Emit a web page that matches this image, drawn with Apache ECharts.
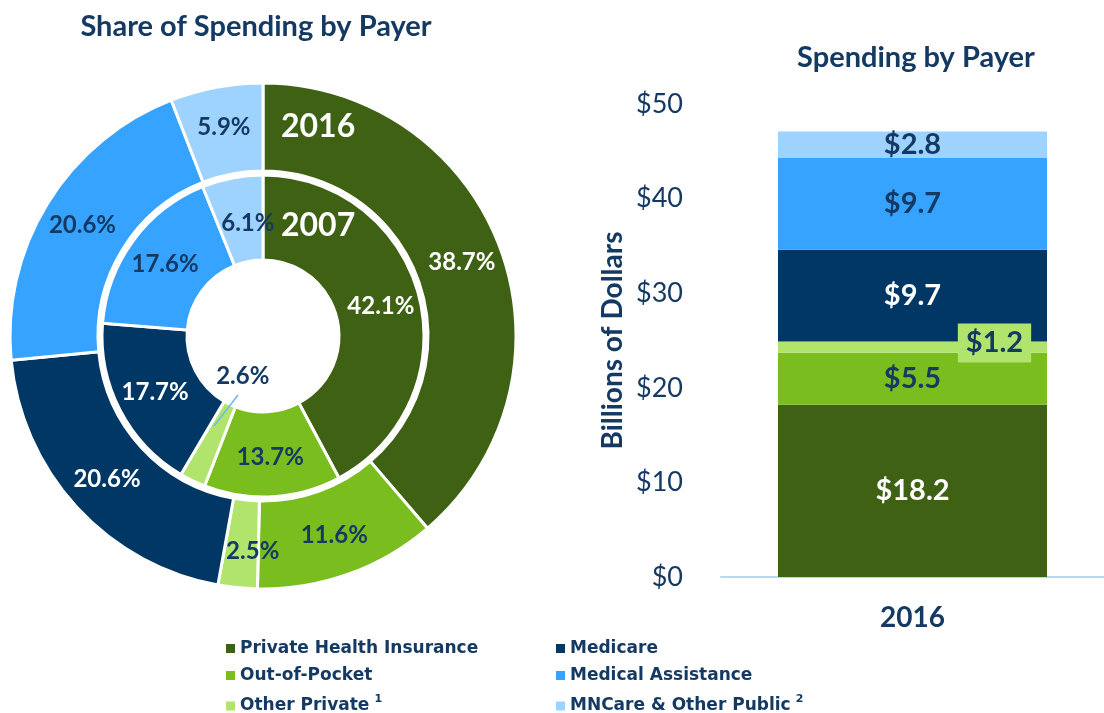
<!DOCTYPE html>
<html><head><meta charset="utf-8">
<script src="https://cdn.jsdelivr.net/npm/echarts@6/dist/echarts.min.js"></script>
<style>html,body{margin:0;padding:0;background:#fff}#c{width:1104px;height:713px}</style>
</head><body><div id="c"></div>
<script>
const payers = ['Private Health Insurance','Out-of-Pocket','Other Private','Medicare','Medical Assistance','MNCare & Other Public'];
const share2016 = [38.7, 11.6, 2.5, 20.6, 20.6, 5.9];
const share2007 = [42.1, 13.7, 2.6, 17.7, 17.6, 6.1];
const spending2016 = [18.2, 5.5, 1.2, 9.7, 9.7, 2.8];
const barCategories = ['2016'];
const ringYears = ['2016', '2007'];

const colors = ['#3E6114', '#79BD1F', '#B0E46C', '#003764', '#35A3FF', '#9ED3FF'];
const navy = '#143A64';
const labelColors = ['#fff', navy, navy, '#fff', navy, navy];

const CX = 263, CY = 336;
const chart = echarts.init(document.getElementById('c'));

function pieData(vals) {
  return payers.map((n, i) => ({name: n, value: vals[i], itemStyle: {color: colors[i]}, label: {color: labelColors[i]}}));
}
const pieLabel = {show: true, position: 'inside', formatter: p => p.value.toFixed(1) + '%',
  fontFamily: 'Lato', fontWeight: 'bold', fontSize: 24};

// leader line for 2007 Other Private
const sum07 = share2007.reduce((a, b) => a + b, 0);
const startFrac = (share2007[0] + share2007[1] + share2007[2] / 2) / sum07;
const ang = (90 - startFrac * 360) * Math.PI / 180;
const lp = [CX + 100 * Math.cos(ang), CY - 100 * Math.sin(ang)];

const option = {
  animation: false,
  graphic: [
    {type: 'text', x: 256, y: 27, style: {text: 'Share of Spending by Payer', fill: navy, font: 'bold 29px Lato', align: 'center', verticalAlign: 'middle'}},
    {type: 'text', x: 916, y: 58, style: {text: 'Spending by Payer', fill: navy, font: 'bold 29px Lato', align: 'center', verticalAlign: 'middle'}},
    {type: 'text', x: 281, y: 127, z: 10, style: {text: ringYears[0], fill: '#fff', font: 'bold 32px Lato', verticalAlign: 'middle'}},
    {type: 'text', x: 281, y: 226, z: 10, style: {text: ringYears[1], fill: '#fff', font: 'bold 32px Lato', verticalAlign: 'middle'}},
    {type: 'line', z: 10, shape: {x1: lp[0] - 5, y1: lp[1], x2: 238, y2: 395}, style: {stroke: '#6CB6F2', lineWidth: 1.5}}
  ],
  legend: [
    {left: 226, top: 640, orient: 'vertical', data: payers.slice(0, 3)},
    {left: 556, top: 640, orient: 'vertical', data: payers.slice(3)}
  ].map(l => Object.assign(l, {
    icon: 'rect', itemWidth: 9, itemHeight: 9, itemGap: 10, padding: 0, height: 90, selectedMode: false,
    formatter: n => n === 'Other Private' ? '{n|' + n + '}{s|1}' : (n === 'MNCare & Other Public' ? '{n|' + n + '}{s|2}' : '{n|' + n + '}'),
    textStyle: {color: navy, rich: {
      n: {fontFamily: 'DejaVu Sans', fontWeight: 'bold', fontSize: 17, color: navy, lineHeight: 24},
      s: {fontFamily: 'DejaVu Sans', fontWeight: 'bold', fontSize: 11, color: navy, verticalAlign: 'top', padding: [0, 0, 0, 5], lineHeight: 9}
    }}
  })),
  grid: {left: 721, right: -18, top: 104, bottom: 136},
  xAxis: {type: 'category', data: barCategories,
    axisLine: {lineStyle: {color: '#BDD7EE', width: 2}}, axisTick: {show: false},
    axisLabel: {fontFamily: 'Lato', fontWeight: 'bold', fontSize: 28, color: navy, margin: 27}},
  yAxis: {type: 'value', min: 0, max: 50, interval: 10,
    splitLine: {show: false}, axisLine: {show: false}, axisTick: {show: false},
    axisLabel: {formatter: v => '$' + v, fontFamily: 'Lato', fontSize: 27, color: navy, margin: 38},
    name: 'Billions of Dollars', nameLocation: 'middle', nameGap: 94,
    nameTextStyle: {fontFamily: 'Lato', fontWeight: 'bold', fontSize: 28, color: navy}},
  series: [
    {type: 'pie', center: [CX, CY], radius: [165, 253], startAngle: 90, silent: true,
      itemStyle: {borderColor: '#fff', borderWidth: 3}, label: pieLabel, labelLine: {show: false},
      labelLayout: p => p.dataIndex === 2 ? {dx: 11, dy: 4} : {},
      data: pieData(share2016)},
    {type: 'pie', center: [CX, CY], radius: [76, 161], startAngle: 90, silent: true,
      itemStyle: {borderColor: '#fff', borderWidth: 3}, label: pieLabel, labelLine: {show: false},
      labelLayout: p => p.dataIndex === 2 ? {dx: 33, dy: -69} : (p.dataIndex === 5 ? {dx: 8, dy: 7} : {}),
      data: pieData(share2007)}
  ].concat(payers.map((n, i) => ({
    type: 'bar', name: n, stack: 'total', barWidth: 269, silent: true,
    data: [spending2016[i]], itemStyle: {color: colors[i]},
    label: Object.assign({show: true, position: 'inside', formatter: p => '$' + p.value.toFixed(1),
      fontFamily: 'Lato', fontWeight: 'bold', fontSize: 29, color: labelColors[i]},
      i === 2 ? {offset: [82, -4], backgroundColor: colors[2], padding: [5, 8]} : {})
  })))
};
chart.setOption(option);
</script></body></html>
